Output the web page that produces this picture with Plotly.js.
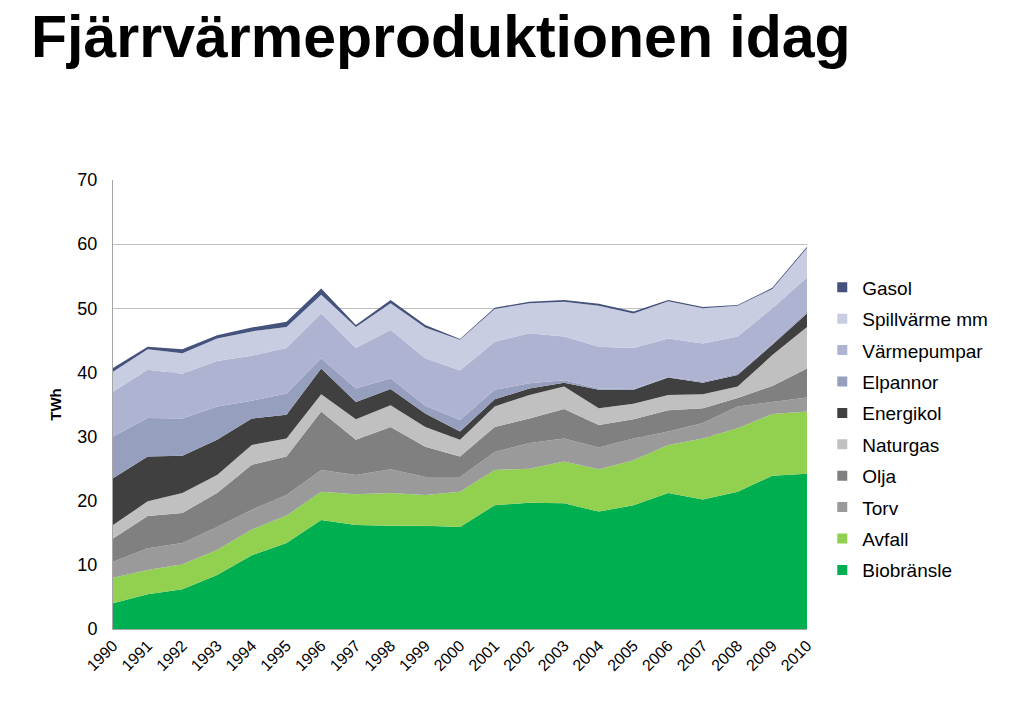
<!DOCTYPE html>
<html>
<head>
<meta charset="utf-8">
<script src="https://cdn.plot.ly/plotly-3.0.1.min.js"></script>
<style>html,body{margin:0;padding:0;background:#fff;}#chart{width:1014px;height:713px;}</style>
</head>
<body>
<div id="chart"></div>
<script>
const years = [1990,1991,1992,1993,1994,1995,1996,1997,1998,1999,2000,2001,2002,2003,2004,2005,2006,2007,2008,2009,2010];
const yearLabels = years.map(String);

const biobransle  = [4.0,5.4,6.2,8.4,11.5,13.4,17.0,16.2,16.1,16.1,15.9,19.3,19.7,19.6,18.3,19.3,21.2,20.2,21.4,23.9,24.2];
const avfall      = [4.0,3.8,3.9,3.9,4.0,4.3,4.4,4.8,5.1,4.8,5.5,5.5,5.3,6.5,6.6,7.0,7.5,9.5,9.9,9.6,9.7];
const torv        = [2.5,3.4,3.3,3.6,3.1,3.2,3.4,3.0,3.7,2.8,2.3,2.8,4.0,3.6,3.4,3.4,2.1,2.4,3.4,1.9,2.2];
const olja        = [3.6,5.0,4.7,5.3,7.0,6.0,9.1,5.5,6.6,4.7,3.2,3.9,3.8,4.6,3.5,3.0,3.3,2.3,1.3,2.5,4.5];
const naturgas    = [2.1,2.3,3.1,2.8,3.1,2.8,2.7,3.2,3.4,3.1,2.6,3.2,3.7,3.5,2.6,2.4,2.4,2.2,1.8,4.8,6.5];
const energikol   = [7.3,7.0,5.8,5.5,4.1,3.7,4.0,2.7,2.5,2.1,1.3,1.1,1.0,0.6,2.9,2.2,2.7,1.8,1.8,1.6,2.1];
const elpannor    = [6.5,6.0,5.8,5.2,2.8,3.3,1.6,2.1,1.7,1.2,1.8,1.5,0.8,0.4,0.2,0.1,0.1,0.2,0.2,0.2,0.3];
const varmepumpar = [7.0,7.5,7.0,7.1,7.0,7.1,7.0,6.3,7.5,7.4,7.7,7.5,7.8,6.8,6.5,6.4,6.0,5.9,5.8,5.5,5.3];
const spillvarme  = [3.1,3.2,3.2,3.5,3.8,3.3,2.9,3.3,4.2,4.8,4.8,5.1,4.7,5.4,6.4,5.4,5.8,5.5,4.8,3.0,4.6];
const gasol       = [0.6,0.4,0.6,0.5,0.6,0.8,1.0,0.3,0.5,0.4,0.1,0.2,0.2,0.3,0.3,0.3,0.2,0.2,0.1,0.2,0.2];

const seriesNames  = ["Biobränsle","Avfall","Torv","Olja","Naturgas","Energikol","Elpannor","Värmepumpar","Spillvärme mm","Gasol"];
const seriesValues = [biobransle,avfall,torv,olja,naturgas,energikol,elpannor,varmepumpar,spillvarme,gasol];
const seriesColors = ["#00B050","#92D050","#9A9A9A","#808080","#C0C0C0","#404040","#979FBF","#ADB3D0","#C9CDE2","#44527C"];

const FONT = "'Liberation Sans', Arial, sans-serif";

const traces = [];
// legend entries (small squares), listed top to bottom: Gasol first
for (let i = seriesNames.length - 1; i >= 0; i--) {
  traces.push({
    x: [null], y: [null], type: 'scatter', mode: 'markers', name: seriesNames[i],
    marker: {symbol: 'square', size: 10, color: seriesColors[i]},
    showlegend: true, legendgroup: 'g' + i
  });
}
// stacked areas
seriesNames.forEach((name, i) => {
  traces.push({
    x: years, y: seriesValues[i], type: 'scatter', mode: 'lines',
    stackgroup: 'one', name: name,
    line: {width: 0, color: seriesColors[i]},
    fillcolor: seriesColors[i],
    showlegend: false, legendgroup: 'g' + i, hoverinfo: 'x+y+name'
  });
});

const layout = {
  width: 1014, height: 713,
  margin: {l: 113, r: 207, t: 180, b: 84},
  paper_bgcolor: '#ffffff', plot_bgcolor: '#ffffff',
  font: {family: FONT, color: '#000000', size: 17},
  title: {
    text: 'Fjärrvärmeproduktionen idag',
    font: {family: FONT, size: 59, weight: 'bold', color: '#000000'},
    x: 31/1014, xref: 'container', xanchor: 'left',
    y: 1 - 16/713, yref: 'container', yanchor: 'top'
  },
  xaxis: {
    type: 'linear', range: [1990, 2010],
    tickmode: 'array', tickvals: years, ticktext: yearLabels,
    tickangle: -45, tickfont: {family: FONT, size: 16, color: '#000000'},
    showgrid: false, zeroline: false,
    showline: true, linecolor: '#A6A6A6', linewidth: 1,
    ticks: '', fixedrange: true
  },
  yaxis: {
    range: [0, 70], tickvals: [0,10,20,30,40,50,60,70],
    tickfont: {family: FONT, size: 18, color: '#000000'},
    showgrid: true, gridcolor: '#BFBFBF', gridwidth: 1,
    zeroline: false, showline: true, linecolor: '#A6A6A6', linewidth: 1,
    ticks: '', ticklabelstandoff: 11,
    title: {text: 'TWh', font: {family: FONT, size: 15, weight: 'bold', color: '#000000'}, standoff: 12},
    fixedrange: true
  },
  legend: {
    x: 1.022, xanchor: 'left', y: 0.803, yanchor: 'top',
    traceorder: 'grouped', tracegroupgap: 3.7,
    font: {family: FONT, size: 19, color: '#000000'},
    itemwidth: 30, bgcolor: 'rgba(0,0,0,0)'
  },
  showlegend: true
};

Plotly.newPlot('chart', traces, layout, {displayModeBar: false, staticPlot: true});
</script>
</body>
</html>
